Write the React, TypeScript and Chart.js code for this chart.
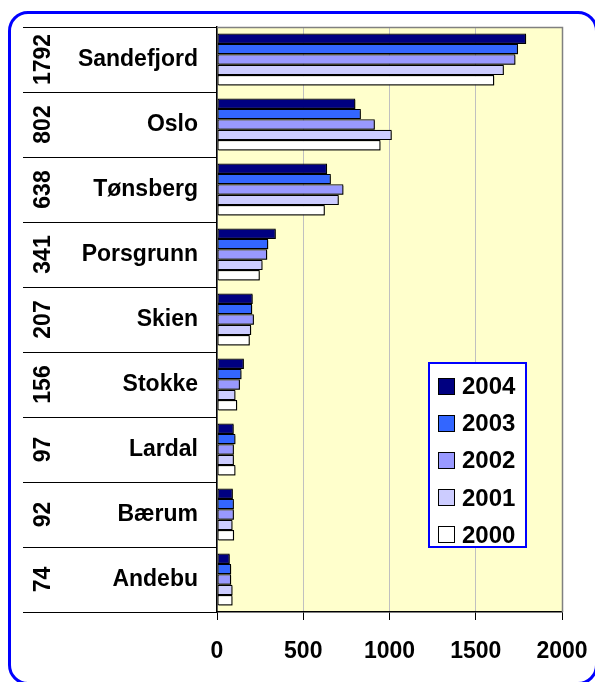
import React, { useEffect, useRef } from "react";
import { Chart, registerables } from "chart.js";

Chart.register(...registerables);

const categories = ["Sandefjord", "Oslo", "Tønsberg", "Porsgrunn", "Skien", "Stokke", "Lardal", "Bærum", "Andebu"];
const rowTotals = ["1792", "802", "638", "341", "207", "156", "97", "92", "74"];
const years = ["2004", "2003", "2002", "2001", "2000"];
const v2004 = [1792, 802, 638, 341, 207, 156, 97, 92, 74];
const v2003 = [1745, 834, 660, 297, 204, 142, 107, 98, 82];
const v2002 = [1730, 915, 733, 291, 214, 133, 98, 98, 82];
const v2001 = [1663, 1013, 706, 264, 198, 107, 98, 90, 90];
const v2000 = [1607, 948, 625, 248, 190, 117, 107, 99, 90];
const seriesValues = [v2004, v2003, v2002, v2001, v2000];
const seriesColors = ["#000080", "#3366FF", "#9999FF", "#CCCCFF", "#FFFFFF"];
const xTicks = [0, 500, 1000, 1500, 2000];

const FONT = "'Liberation Sans', Arial, sans-serif";

const tablePlugin = {
  id: "tablePlugin",
  beforeDraw(chart: any) {
    const { ctx, chartArea } = chart;
    ctx.save();
    ctx.fillStyle = "#FFFFCC";
    ctx.fillRect(chartArea.left, chartArea.top, chartArea.right - chartArea.left, chartArea.bottom - chartArea.top);
    ctx.restore();
  },
  beforeDatasetsDraw(chart: any) {
    const ctx = chart.ctx;
    ctx.save();
    ctx.shadowColor = "rgba(0,0,0,0.55)";
    ctx.shadowOffsetX = 1.5;
    ctx.shadowOffsetY = 1.5;
    ctx.shadowBlur = 0;
  },
  afterDatasetsDraw(chart: any) {
    chart.ctx.restore();
  },
  afterDraw(chart: any) {
    const { ctx, chartArea } = chart;
    const n = categories.length;
    const h = (chartArea.bottom - chartArea.top) / n;
    ctx.save();
    ctx.strokeStyle = "#808080";
    ctx.lineWidth = 1.5;
    ctx.beginPath();
    ctx.moveTo(chartArea.left, chartArea.top + 0.5);
    ctx.lineTo(chartArea.right + 0.5, chartArea.top + 0.5);
    ctx.lineTo(chartArea.right + 0.5, chartArea.bottom);
    ctx.stroke();
    ctx.strokeStyle = "#000";
    ctx.lineWidth = 1;
    for (let i = 0; i <= n; i++) {
      const y = Math.round(chartArea.top + i * h) + 0.5;
      ctx.beginPath();
      ctx.moveTo(23, y);
      ctx.lineTo(chartArea.left, y);
      ctx.stroke();
    }
    ctx.fillStyle = "#000";
    ctx.font = `bold 23px ${FONT}`;
    ctx.textAlign = "center";
    ctx.textBaseline = "middle";
    for (let i = 0; i < n; i++) {
      const cy = chart.scales.y.getPixelForValue(i);
      ctx.save();
      ctx.translate(44, cy);
      ctx.rotate(-Math.PI / 2);
      ctx.fillText(rowTotals[i], 0, 0);
      ctx.restore();
    }
    ctx.restore();
  },
};

export default function App() {
  const ref = useRef<HTMLCanvasElement | null>(null);
  useEffect(() => {
    if (!ref.current) return;
    const chart = new Chart(ref.current, {
      type: "bar",
      data: {
        labels: categories,
        datasets: years.map((y, i) => ({
          label: y,
          data: seriesValues[i],
          backgroundColor: seriesColors[i],
          borderColor: "#000",
          borderWidth: 1.2,
          borderSkipped: false,
          categoryPercentage: 0.8,
          barPercentage: 1.0,
        })),
      },
      options: {
        indexAxis: "y",
        animation: false,
        responsive: false,
        maintainAspectRatio: false,
        layout: { autoPadding: false, padding: { left: 0, right: 33, top: 27, bottom: 0 } },
        plugins: { legend: { display: false }, tooltip: { enabled: false } },
        scales: {
          x: {
            min: 0,
            max: 2000,
            afterBuildTicks: (scale: any) => {
              scale.ticks = xTicks.map((v) => ({ value: v }));
            },
            afterFit: (scale: any) => {
              scale.height = 70;
              scale.paddingLeft = 0;
              scale.paddingRight = 0;
            },
            ticks: {
              color: "#000",
              font: { family: FONT, size: 23, weight: "bold" },
              padding: 18,
              maxRotation: 0,
              callback: (v: any) => String(v),
            },
            grid: { color: "#C0C0C0", lineWidth: 1, tickColor: "#000", tickLength: 8 },
            border: { color: "#000", width: 1.5 },
          },
          y: {
            afterFit: (scale: any) => {
              scale.width = 217;
              scale.paddingTop = 0;
              scale.paddingBottom = 0;
            },
            ticks: {
              color: "#000",
              font: { family: FONT, size: 23, weight: "bold" },
              padding: 11,
            },
            grid: { display: false },
            border: { color: "#000", width: 1.5 },
          },
        },
      },
      plugins: [tablePlugin],
    });
    return () => chart.destroy();
  }, []);

  return (
    <div style={{ position: "fixed", left: 0, top: 0, width: 595, height: 682, overflow: "hidden", background: "#fff" }}>
      <canvas ref={ref} width={595} height={682} style={{ position: "absolute", left: 0, top: 0, width: 595, height: 682 }} />
      <div
        style={{
          position: "absolute",
          left: 8,
          top: 11,
          width: 584,
          height: 668,
          border: "3px solid #0000FF",
          borderRadius: 20,
          pointerEvents: "none",
        }}
      />
      <div
        style={{
          position: "absolute",
          left: 428,
          top: 362,
          width: 95,
          height: 182,
          border: "2px solid #0000FF",
          background: "#fff",
          fontFamily: FONT,
          fontWeight: "bold",
          fontSize: 24,
          color: "#000",
        }}
      >
        {years.map((y, i) => (
          <div
            key={y}
            style={{ position: "absolute", left: 8, top: 5 + i * 37.2, height: 34, display: "flex", alignItems: "center" }}
          >
            <span
              style={{
                display: "inline-block",
                width: 15,
                height: 15,
                background: seriesColors[i],
                border: "1px solid #000",
                marginRight: 7,
              }}
            />
            <span style={{ lineHeight: "34px" }}>{y}</span>
          </div>
        ))}
      </div>
    </div>
  );
}
